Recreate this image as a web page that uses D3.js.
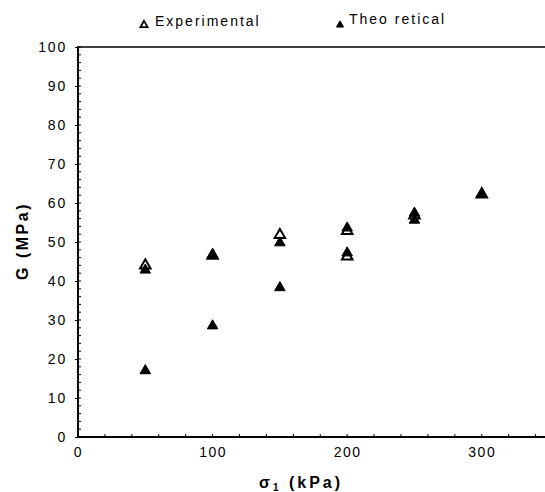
<!DOCTYPE html>
<html>
<head>
<meta charset="utf-8">
<script src="https://cdn.jsdelivr.net/npm/d3@7"></script>
<style>
html,body{margin:0;padding:0;background:#fff;}
svg{display:block;}
text{font-family:"Liberation Sans",Arial,sans-serif;fill:#000;}
</style>
</head>
<body>
<script>
// Data
const expX = [50, 100, 150, 200, 200, 250, 300];
const expY = [44, 46.5, 51.8, 52.8, 46.3, 56.8, 62.2];
const theoX = [50, 50, 100, 100, 150, 150, 200, 200, 250, 250, 300];
const theoY = [42.8, 17, 46.8, 28.5, 49.8, 38.3, 53.6, 47.2, 57.4, 55.6, 62.4];
const xTicks = [0, 100, 200, 300];
const yTicks = [0, 10, 20, 30, 40, 50, 60, 70, 80, 90, 100];
const seriesNames = ["Experimental", "Theo retical"];

const W = 545, H = 492;
const svg = d3.select("body").append("svg").attr("width", W).attr("height", H);

const x = d3.scaleLinear().domain([0, 347]).range([78, 545]);
const y = d3.scaleLinear().domain([0, 100]).range([437, 47]);

// minor ticks
const g = svg.append("g");
g.selectAll(".ymin").data(d3.range(0, 101, 2)).join("line")
  .attr("x1", 78).attr("x2", 81).attr("y1", d => y(d)).attr("y2", d => y(d))
  .attr("stroke", "#000").attr("stroke-width", 1);
g.selectAll(".xmin").data(d3.range(0, 341, 20)).join("line")
  .attr("x1", d => x(d)).attr("x2", d => x(d)).attr("y1", 437).attr("y2", 434)
  .attr("stroke", "#000").attr("stroke-width", 1);

// axes
const yAxis = d3.axisLeft(y).tickValues(yTicks).tickSize(3).tickPadding(8);
const xAxis = d3.axisBottom(x).tickValues(xTicks).tickSize(3).tickPadding(7);

const ya = svg.append("g").attr("transform", "translate(78,0)").call(yAxis);
ya.select(".domain").remove();
ya.selectAll("line").attr("stroke-width", 1);
ya.selectAll("text").attr("font-size", 14).attr("letter-spacing", 1.8)
  .attr("font-family", "Liberation Sans, Arial, sans-serif");

const xa = svg.append("g").attr("transform", "translate(0,437)").call(xAxis);
xa.select(".domain").remove();
xa.selectAll("line").remove();
xa.selectAll("text").attr("font-size", 14).attr("letter-spacing", 1.5)
  .attr("font-family", "Liberation Sans, Arial, sans-serif");

// frame lines
svg.append("line").attr("x1", 78).attr("x2", 78).attr("y1", y(100)).attr("y2", y(0))
  .attr("stroke", "#000").attr("stroke-width", 2);
svg.append("line").attr("x1", 77).attr("x2", W).attr("y1", y(0)).attr("y2", y(0))
  .attr("stroke", "#000").attr("stroke-width", 2);
svg.append("line").attr("x1", 77).attr("x2", W).attr("y1", y(100)).attr("y2", y(100))
  .attr("stroke", "#000").attr("stroke-width", 1.5);

// points
const tri = d3.symbol().type(d3.symbolTriangle).size(48);
svg.append("g").selectAll("path").data(expX.map((v, i) => [v, expY[i]])).join("path")
  .attr("d", tri).attr("transform", d => `translate(${x(d[0])},${y(d[1])})`)
  .attr("fill", "#fff").attr("stroke", "#000").attr("stroke-width", 2);
svg.append("g").selectAll("path").data(theoX.map((v, i) => [v, theoY[i]])).join("path")
  .attr("d", tri).attr("transform", d => `translate(${x(d[0])},${y(d[1])})`)
  .attr("fill", "#000").attr("stroke", "#000").attr("stroke-width", 1);

// legend
const triL = d3.symbol().type(d3.symbolTriangle).size(22);
svg.append("path").attr("d", triL).attr("transform", "translate(144,25)")
  .attr("fill", "#fff").attr("stroke", "#000").attr("stroke-width", 1.8);
svg.append("text").attr("x", 155).attr("y", 26).attr("font-size", 14)
  .attr("letter-spacing", 2).text(seriesNames[0]);
svg.append("path").attr("d", triL).attr("transform", "translate(340,25)")
  .attr("fill", "#000").attr("stroke", "#000").attr("stroke-width", 1);
svg.append("text").attr("x", 349).attr("y", 24).attr("font-size", 14)
  .attr("letter-spacing", 2).text(seriesNames[1]);

// axis titles
svg.append("text").attr("transform", "translate(28,241) rotate(-90)")
  .attr("text-anchor", "middle").attr("font-size", 16).attr("font-weight", "bold")
  .attr("letter-spacing", 2.5).text("G (MPa)");
const xt = svg.append("text").attr("x", 301).attr("y", 488).attr("text-anchor", "middle")
  .attr("font-size", 16).attr("font-weight", "bold").attr("letter-spacing", 3);
xt.append("tspan").text("σ");
xt.append("tspan").attr("font-size", 10).attr("dy", 3).text("1");
xt.append("tspan").attr("dy", -3).text(" (kPa)");
</script>
</body>
</html>
